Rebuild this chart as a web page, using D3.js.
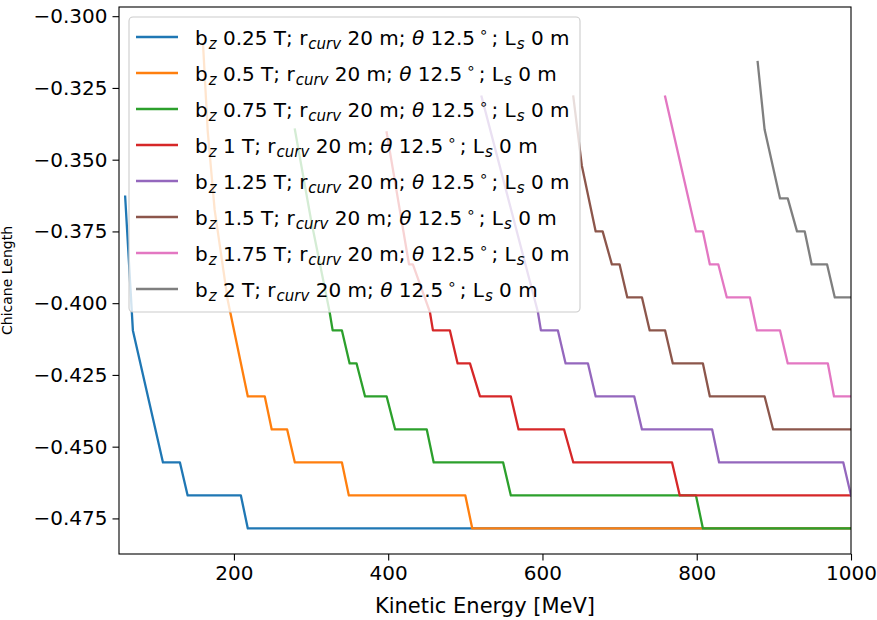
<!DOCTYPE html>
<html>
<head>
<meta charset="utf-8">
<script src="https://cdn.jsdelivr.net/npm/d3@7"></script>
<style>
	body { margin: 0; background: #fff; }
	svg { display: block; font-family: "DejaVu Sans", sans-serif; }
</style>
</head>
<body>
<div id="container"></div>
<script>
	// field values (T) and colours, one entry per curve
	const fields = ["0.25", "0.5", "0.75", "1", "1.25", "1.5", "1.75", "2"];
	const colors = ["#1f77b4", "#ff7f0e", "#2ca02c", "#d62728", "#9467bd", "#8c564b", "#e377c2", "#7f7f7f"];

	// corners of each stepped curve: kinetic energy [MeV] / chicane length
	const e025 = [59, 69, 108, 130, 140, 209, 218, 1000];
	const l025 = [-0.3629, -0.4095, -0.4555, -0.4555, -0.467, -0.467, -0.4785, -0.4785];

	const e050 = [160, 166, 175, 192, 218, 240, 249, 269, 279, 340, 349, 500, 509, 1000];
	const l050 = [-0.310, -0.340, -0.3675, -0.399, -0.4325, -0.4325, -0.444, -0.444, -0.4555, -0.4555, -0.467, -0.467, -0.4785, -0.4785];

	const e075 = [279, 300, 324, 328, 340, 350, 359, 370, 398, 409, 450, 459, 549, 559, 799, 808, 1000];
	const l075 = [-0.3395, -0.371, -0.403, -0.4095, -0.4095, -0.421, -0.421, -0.4325, -0.4325, -0.444, -0.444, -0.4555, -0.4555, -0.467, -0.467, -0.4785, -0.4785];

	const e100 = [398, 427, 432, 454, 458, 480, 490, 506, 519, 559, 569, 628, 640, 768, 778, 1000];
	const l100 = [-0.3405, -0.3865, -0.3865, -0.403, -0.4095, -0.4095, -0.421, -0.421, -0.4325, -0.4325, -0.444, -0.444, -0.4555, -0.4555, -0.467, -0.467];

	const e125 = [521, 594, 598, 620, 630, 659, 669, 719, 729, 820, 829, 990, 1000];
	const l125 = [-0.328, -0.403, -0.4095, -0.4095, -0.421, -0.421, -0.4325, -0.4325, -0.444, -0.444, -0.4555, -0.4555, -0.467];

	const e150 = [640, 651, 669, 678, 690, 700, 710, 729, 739, 759, 769, 808, 817, 888, 899, 1000];
	const l150 = [-0.328, -0.352, -0.375, -0.375, -0.3865, -0.3865, -0.398, -0.398, -0.4095, -0.4095, -0.421, -0.421, -0.4325, -0.4325, -0.444, -0.444];

	const e175 = [759, 799, 808, 817, 828, 839, 869, 878, 908, 918, 970, 978, 1000];
	const l175 = [-0.328, -0.375, -0.375, -0.3865, -0.3865, -0.398, -0.398, -0.4095, -0.4095, -0.421, -0.421, -0.4325, -0.4325];

	const e200 = [879, 888, 908, 918, 930, 940, 949, 969, 979, 1000];
	const l200 = [-0.316, -0.3395, -0.3635, -0.3635, -0.375, -0.375, -0.3865, -0.3865, -0.398, -0.398];

	const energies = [e025, e050, e075, e100, e125, e150, e175, e200];
	const lengths = [l025, l050, l075, l100, l125, l150, l175, l200];

	const xTicks = [200, 400, 600, 800, 1000];
	const yTicks = [-0.300, -0.325, -0.350, -0.375, -0.400, -0.425, -0.450, -0.475];

	const width = 877, height = 620;
	const margin = {left: 119, right: 26, top: 7, bottom: 66};

	const svg = d3.select("#container").append("svg").attr("width", width).attr("height", height);

	const x = d3.scaleLinear().domain([51, 1000]).range([margin.left, width - margin.right]);
	const y = d3.scaleLinear().domain([-0.4874, -0.2968]).range([height - margin.bottom, margin.top]);

	svg.append("clipPath").attr("id", "plot").append("rect")
		.attr("x", margin.left).attr("y", margin.top)
		.attr("width", x.range()[1] - margin.left).attr("height", y.range()[0] - margin.top);

	/****************************************************************
		CURVES
	****************************************************************/
	const line = d3.line().x(d => x(d[0])).y(d => y(d[1]));

	svg.append("g").attr("clip-path", "url(#plot)")
		.selectAll("path")
		.data(fields.map((f, i) => energies[i].map((e, j) => [e, lengths[i][j]])))
		.enter().append("path")
		.attr("d", line)
		.attr("fill", "none")
		.attr("stroke", (d, i) => colors[i])
		.attr("stroke-width", 2.3)
		.attr("stroke-linejoin", "round")
		.attr("stroke-linecap", "square");

	/****************************************************************
		AXES
	****************************************************************/
	const xAxis = d3.axisBottom(x).tickValues(xTicks).tickSize(6.5).tickPadding(5).tickFormat(d3.format("d"));
	const yAxis = d3.axisLeft(y).tickValues(yTicks).tickSize(6.5).tickPadding(5).tickFormat(d3.format(".3f"));

	const gx = svg.append("g").attr("transform", "translate(0," + y.range()[0] + ")").call(xAxis);
	const gy = svg.append("g").attr("transform", "translate(" + margin.left + ",0)").call(yAxis);

	[gx, gy].forEach(g => {
		g.select(".domain").remove();
		g.selectAll(".tick line").attr("stroke", "#000").attr("stroke-width", 1.1);
		g.selectAll(".tick text").attr("fill", "#000").attr("font-size", 20)
			.attr("font-family", "DejaVu Sans");
	});

	svg.append("rect")
		.attr("x", margin.left).attr("y", margin.top)
		.attr("width", x.range()[1] - margin.left).attr("height", y.range()[0] - margin.top)
		.attr("fill", "none").attr("stroke", "#000").attr("stroke-width", 1.1);

	svg.append("text").attr("x", (x.range()[0] + x.range()[1]) / 2).attr("y", 613)
		.attr("text-anchor", "middle").attr("font-size", 21).text("Kinetic Energy [MeV]");

	svg.append("text").attr("transform", "translate(12," + (y.range()[0] + y.range()[1]) / 2 + ") rotate(-90)")
		.attr("text-anchor", "middle").attr("font-size", 14).text("Chicane Length");

	/****************************************************************
		LEGEND
	****************************************************************/
	const lg = svg.append("g");
	lg.append("rect").attr("x", 129).attr("y", 17).attr("width", 451).attr("height", 295)
		.attr("rx", 4).attr("fill", "#fff").attr("fill-opacity", 0.8)
		.attr("stroke", "#cccccc").attr("stroke-width", 1.1);

	const rows = lg.selectAll("g.row").data(fields).enter().append("g")
		.attr("transform", (d, i) => "translate(0," + (37 + i * 36) + ")");

	rows.append("line").attr("x1", 136).attr("x2", 178)
		.attr("stroke", (d, i) => colors[i]).attr("stroke-width", 2.3);

	rows.each(function(f) {
		const t = d3.select(this).append("text").attr("x", 195).attr("y", 7.5).attr("font-size", 20);
		let shift = 0;
		function part(str, opts) {
			opts = opts || {};
			const s = opts.shift || 0;
			const ts = t.append("tspan").attr("dy", s - shift).text(str);
			shift = s;
			if (opts.small) ts.attr("font-size", 15);
			if (opts.italic) ts.attr("font-style", "italic");
			if (opts.dx) ts.attr("dx", opts.dx);
		}
		part("b");
		part("z", {small: true, italic: true, shift: 4, dx: 1});
		part(" " + f + " T; r");
		part("curv", {small: true, italic: true, shift: 4, dx: 1});
		part(" 20 m; ");
		part("\u03b8", {italic: true});
		part(" 12.5");
		part("\u2218", {small: true, shift: -8, dx: 4});
		part("; L", {dx: 3});
		part("s", {small: true, italic: true, shift: 4, dx: 1});
		part(" 0 m");
	});
</script>
</body>
</html>
